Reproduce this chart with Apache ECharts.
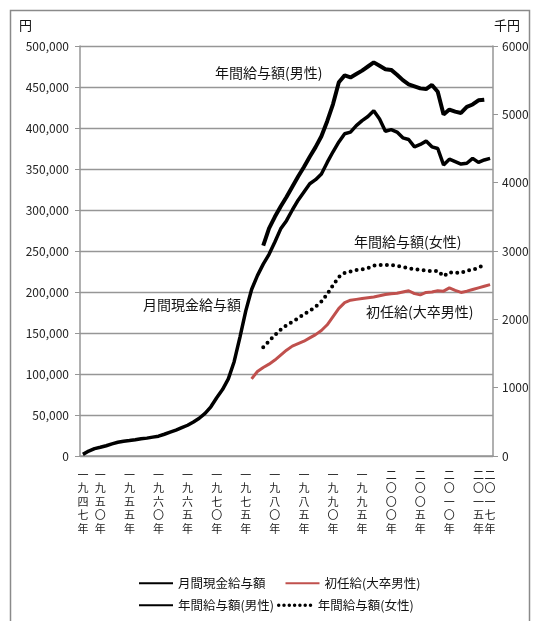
<!DOCTYPE html>
<html>
<head>
<meta charset="utf-8">
<script src="https://cdn.jsdelivr.net/npm/echarts@6/dist/echarts.min.js"></script>
<style>
html, body { margin: 0; padding: 0; background: #fff; }
#chart { width: 540px; height: 621px; }
</style>
</head>
<body>
<div id="chart"></div>
<script>
// 年 (カテゴリ)
const years = [
  1947, 1948, 1949, 1950, 1951, 1952, 1953, 1954, 1955, 1956,
  1957, 1958, 1959, 1960, 1961, 1962, 1963, 1964, 1965, 1966,
  1967, 1968, 1969, 1970, 1971, 1972, 1973, 1974, 1975, 1976,
  1977, 1978, 1979, 1980, 1981, 1982, 1983, 1984, 1985, 1986,
  1987, 1988, 1989, 1990, 1991, 1992, 1993, 1994, 1995, 1996,
  1997, 1998, 1999, 2000, 2001, 2002, 2003, 2004, 2005, 2006,
  2007, 2008, 2009, 2010, 2011, 2012, 2013, 2014, 2015, 2016, 2017
];
// 目盛ラベルを出す年
const labelYears = [1947, 1950, 1955, 1960, 1965, 1970, 1975, 1980, 1985, 1990, 1995, 2000, 2005, 2010, 2015, 2017];

// 月間現金給与額 (円) 1947-2017
const monthlyPay = [
  2000, 6000, 9000, 10600, 12500, 14800, 16700, 17900, 18800, 19800,
  21000, 21800, 23000, 24200, 26500, 29000, 31500, 34500, 37500, 41500,
  46000, 52000, 60000, 71000, 81000, 94000, 115000, 145000, 177000, 203000,
  220000, 234000, 246000, 261000, 277000, 287000, 300000, 312000, 322000, 332000,
  337000, 344000, 358000, 371000, 383000, 393000, 395000, 403000, 409000, 414000,
  421000, 411000, 396000, 398000, 395000, 388000, 386000, 377000, 380000, 384000,
  377000, 375000, 355000, 362000, 359000, 356000, 357000, 363000, 358000, 361000, 363000
];
// 初任給(大卒男性) (円) 1976-2017
const starterStart = 1976;
const starterPay = [
  94000, 103000, 108000, 112000, 117000, 123000, 129000, 134000, 137000, 140000,
  144000, 148000, 153000, 160000, 170000, 180000, 187000, 190000, 191000, 192000,
  193000, 194000, 195500, 197000, 198000, 198500, 200000, 201500, 198000, 196500,
  199500, 200000, 201500, 201000, 205000, 202000, 199500, 201000, 203000, 205000,
  207000, 209000
];
// 年間給与額 (千円) 1978-2016
const annualStart = 1978;
const annualMale = [
  3080, 3330, 3500, 3650, 3790, 3940, 4090, 4230, 4380, 4520,
  4680, 4900, 5150, 5470, 5570, 5540, 5590, 5640, 5700, 5760,
  5710, 5660, 5650, 5580, 5500, 5440, 5410, 5380, 5370, 5430,
  5330, 4996, 5070, 5040, 5020, 5110, 5144, 5205, 5215
];
const annualFemale = [
  1590, 1680, 1770, 1850, 1915, 1965, 2015, 2075, 2125, 2185,
  2260, 2370, 2500, 2620, 2680, 2700, 2720, 2730, 2750, 2785,
  2795, 2795, 2795, 2780, 2770, 2747, 2735, 2725, 2712, 2705,
  2710, 2630, 2690, 2680, 2680, 2717, 2722, 2760, 2797
];

const kanjiDigits = ['〇', '一', '二', '三', '四', '五', '六', '七', '八', '九'];

// 開始年から並べた値をカテゴリ全体に合わせる
function fromYear(start, values) {
  const out = years.map(() => null);
  values.forEach((v, i) => { out[years.indexOf(start + i)] = v; });
  return out;
}

function yearLabel(v) {
  const s = String(v).split('').map(d => kanjiDigits[+d]).join('') + '年';
  return s.split('').join('\n');
}

const gray = '#969696';
const font = "'Noto Sans CJK JP', sans-serif";

const chart = echarts.init(document.getElementById('chart'));

const legendBase = {
  left: 133, itemWidth: 34, itemHeight: 12,
  itemStyle: { opacity: 0 },
  textStyle: { fontSize: 12.5, color: '#111' }
};

const option = {
  animation: false,
  textStyle: { fontFamily: font },
  grid: { left: 80, right: 47, top: 46, bottom: 165 },
  xAxis: {
    type: 'category',
    data: years.map(String),
    boundaryGap: true,
    axisLine: { lineStyle: { color: gray, width: 1.5 } },
    axisTick: { interval: 0, length: 5, lineStyle: { color: gray } },
    axisLabel: {
      interval: (i, v) => labelYears.includes(+v),
      formatter: yearLabel,
      hideOverlap: false,
      fontSize: 11, lineHeight: 13.5, color: '#222', margin: 12
    },
    splitLine: { show: false }
  },
  yAxis: [
    {
      type: 'value', min: 0, max: 500000, interval: 50000,
      axisLine: { show: true, lineStyle: { color: gray, width: 1.5 } },
      axisTick: { show: true, length: 5, lineStyle: { color: gray } },
      axisLabel: { formatter: v => v.toLocaleString('en-US'), fontSize: 12, color: '#222', margin: 11 },
      splitLine: { lineStyle: { color: gray, width: 1.3 } }
    },
    {
      type: 'value', min: 0, max: 6000, interval: 1000, position: 'right',
      axisLine: { show: true, lineStyle: { color: gray, width: 1.5 } },
      axisTick: { show: true, length: 5, lineStyle: { color: gray } },
      axisLabel: { formatter: v => String(v), fontSize: 12, color: '#222', margin: 9 },
      splitLine: { show: false }
    }
  ],
  legend: [
    Object.assign({}, legendBase, {
      data: ['月間現金給与額', '初任給(大卒男性)'], top: 572, itemGap: 19
    }),
    Object.assign({}, legendBase, {
      data: [
        '年間給与額(男性)',
        { name: '年間給与額(女性)', lineStyle: { width: 3.5, type: [0, 5.3], cap: 'round' } }
      ],
      top: 594, itemGap: 3
    })
  ],
  graphic: [
    { type: 'rect', silent: true, shape: { x: 10.5, y: 10.5, width: 519, height: 640 },
      style: { fill: 'none', stroke: '#8a8a8a', lineWidth: 1.5 } },
    { type: 'text', x: 19, y: 25, style: { text: '円', font: '13px ' + font, fill: '#111', verticalAlign: 'middle' } },
    { type: 'text', x: 494, y: 25, style: { text: '千円', font: '13px ' + font, fill: '#111', verticalAlign: 'middle' } },
    { type: 'text', x: 215, y: 73, style: { text: '年間給与額(男性)', font: '14px ' + font, fill: '#111', verticalAlign: 'middle' } },
    { type: 'text', x: 354, y: 242, style: { text: '年間給与額(女性)', font: '14px ' + font, fill: '#111', verticalAlign: 'middle' } },
    { type: 'text', x: 143, y: 305, style: { text: '月間現金給与額', font: '14px ' + font, fill: '#111', verticalAlign: 'middle' } },
    { type: 'text', x: 366, y: 312, style: { text: '初任給(大卒男性)', font: '14px ' + font, fill: '#111', verticalAlign: 'middle' } }
  ],
  series: [
    {
      name: '月間現金給与額', type: 'line', yAxisIndex: 0, data: monthlyPay,
      symbol: 'none', color: '#000', lineStyle: { color: '#000', width: 3.5 }
    },
    {
      name: '初任給(大卒男性)', type: 'line', yAxisIndex: 0, data: fromYear(starterStart, starterPay),
      symbol: 'none', color: '#c0504d', lineStyle: { color: '#c0504d', width: 3 }
    },
    {
      name: '年間給与額(男性)', type: 'line', yAxisIndex: 1, data: fromYear(annualStart, annualMale),
      symbol: 'none', color: '#000', lineStyle: { color: '#000', width: 4 }
    },
    {
      name: '年間給与額(女性)', type: 'line', yAxisIndex: 1, data: fromYear(annualStart, annualFemale),
      symbol: 'none', color: '#000', lineStyle: { color: '#000', width: 4, type: [0, 6.2], cap: 'round' }
    }
  ]
};

chart.setOption(option);
</script>
</body>
</html>
